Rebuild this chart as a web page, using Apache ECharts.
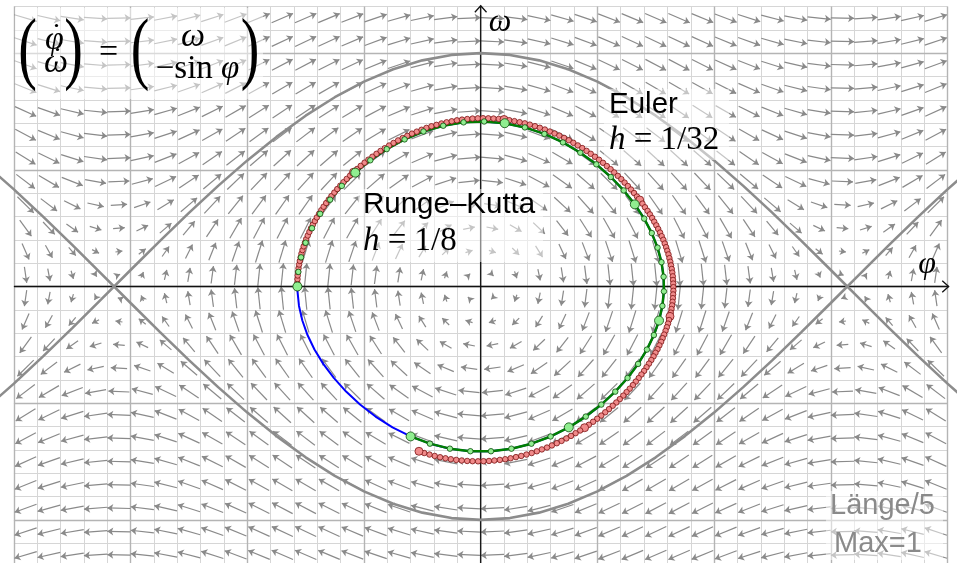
<!DOCTYPE html>
<html lang="de">
<head>
<meta charset="utf-8">
<title>Pendel: Euler und Runge-Kutta</title>
<script src="https://cdn.jsdelivr.net/npm/echarts@6/dist/echarts.min.js"></script>
<style>
  html, body { margin: 0; padding: 0; background: #fff; }
  #main { width: 957px; height: 563px; }
</style>
</head>
<body>
<div id="main"></div>
<script>
// Runge-Kutta, h = 1/8 (t = 0 .. 6)
var rkPhi = [-1.5708, -1.5630, -1.5395, -1.5005, -1.4458, -1.3757, -1.2903, -1.1899, -1.0750,
  -0.9463, -0.8050, -0.6524, -0.4904, -0.3211, -0.1469, 0.0296, 0.2056, 0.3785, 0.5456, 0.7047,
  0.8536, 0.9909, 1.1150, 1.2252, 1.3206, 1.4009, 1.4659, 1.5153, 1.5491, 1.5673, 1.5699, 1.5569,
  1.5282, 1.4839, 1.4241, 1.3488, 1.2583, 1.1530, 1.0334, 0.9003, 0.7550, 0.5991, 0.4344, 0.2632,
  0.0879, -0.0887, -0.2640, -0.4352, -0.6005];
var rkOmega = [0, 0.1251, 0.2500, 0.3749, 0.4993, 0.6226, 0.7441, 0.8623, 0.9755,
  1.0814, 1.1774, 1.2607, 1.3283, 1.3776, 1.4066, 1.4139, 1.3992, 1.3633, 1.3075, 1.2344,
  1.1465, 1.0469, 0.9383, 0.8232, 0.7037, 0.5815, 0.4577, 0.3331, 0.2082, 0.0832, -0.0419, -0.1669,
  -0.2919, -0.4166, -0.5407, -0.6636, -0.7841, -0.9009, -1.0119, -1.1148, -1.2069, -1.2852, -1.3469, -1.3897,
  -1.4115, -1.4114, -1.3895, -1.3467, -1.2846];

// rest of the exact orbit (t = 6.125 .. 7.375, back to the start)
var tailPhi = [-0.7558, -0.9010, -1.0340, -1.1535, -1.2588, -1.3492, -1.4244, -1.4842, -1.5284, -1.5570, -1.5699, -1.5708];
var tailOmega = [-1.2065, -1.1143, -1.0114, -0.9003, -0.7835, -0.6630, -0.5401, -0.4160, -0.2913, -0.1663, -0.0413, 0];

// Euler, h = 1/32 (t = 0 .. 6)
var eulerPhi = [-1.571, -1.571, -1.570, -1.568, -1.565, -1.561, -1.556, -1.550, -1.543, -1.536,
  -1.527, -1.517, -1.506, -1.495, -1.482, -1.468, -1.454, -1.438, -1.421, -1.404,
  -1.385, -1.366, -1.346, -1.324, -1.302, -1.279, -1.254, -1.229, -1.203, -1.176,
  -1.148, -1.119, -1.090, -1.059, -1.028, -0.995, -0.962, -0.928, -0.893, -0.858,
  -0.822, -0.785, -0.747, -0.708, -0.669, -0.629, -0.589, -0.548, -0.507, -0.465,
  -0.422, -0.379, -0.336, -0.292, -0.248, -0.204, -0.160, -0.115, -0.070, -0.025,
  0.020, 0.065, 0.110, 0.155, 0.200, 0.245, 0.289, 0.334, 0.378, 0.421,
  0.465, 0.507, 0.550, 0.592, 0.633, 0.674, 0.715, 0.755, 0.794, 0.832,
  0.870, 0.907, 0.943, 0.979, 1.014, 1.048, 1.081, 1.113, 1.144, 1.175,
  1.205, 1.233, 1.261, 1.288, 1.314, 1.339, 1.363, 1.386, 1.408, 1.430,
  1.450, 1.469, 1.487, 1.505, 1.521, 1.537, 1.551, 1.565, 1.577, 1.589,
  1.599, 1.609, 1.617, 1.625, 1.631, 1.637, 1.642, 1.646, 1.648, 1.650,
  1.651, 1.651, 1.649, 1.647, 1.644, 1.640, 1.635, 1.629, 1.622, 1.614,
  1.605, 1.595, 1.584, 1.572, 1.559, 1.546, 1.531, 1.515, 1.498, 1.481,
  1.462, 1.442, 1.421, 1.400, 1.377, 1.354, 1.329, 1.304, 1.277, 1.250,
  1.222, 1.192, 1.162, 1.131, 1.099, 1.067, 1.033, 0.998, 0.963, 0.927,
  0.890, 0.852, 0.813, 0.774, 0.734, 0.693, 0.652, 0.610, 0.568, 0.524,
  0.481, 0.437, 0.392, 0.347, 0.302, 0.256, 0.210, 0.164, 0.117, 0.071,
  0.024, -0.023, -0.070, -0.116, -0.163, -0.210, -0.256, -0.302, -0.348, -0.394,
  -0.439, -0.484, -0.529];
var eulerOmega = [0, 0.031, 0.063, 0.094, 0.125, 0.156, 0.188, 0.219, 0.250, 0.281,
  0.312, 0.344, 0.375, 0.406, 0.437, 0.468, 0.499, 0.530, 0.561, 0.592,
  0.623, 0.654, 0.684, 0.715, 0.745, 0.775, 0.805, 0.835, 0.864, 0.894,
  0.922, 0.951, 0.979, 1.007, 1.034, 1.061, 1.087, 1.112, 1.137, 1.162,
  1.185, 1.208, 1.230, 1.252, 1.272, 1.291, 1.310, 1.327, 1.343, 1.359,
  1.373, 1.385, 1.397, 1.407, 1.416, 1.424, 1.430, 1.435, 1.439, 1.441,
  1.442, 1.441, 1.439, 1.436, 1.431, 1.425, 1.417, 1.408, 1.398, 1.387,
  1.374, 1.360, 1.345, 1.328, 1.311, 1.293, 1.273, 1.253, 1.231, 1.209,
  1.186, 1.162, 1.137, 1.112, 1.086, 1.060, 1.032, 1.005, 0.977, 0.948,
  0.920, 0.890, 0.861, 0.831, 0.801, 0.771, 0.741, 0.710, 0.679, 0.648,
  0.618, 0.587, 0.555, 0.524, 0.493, 0.462, 0.431, 0.400, 0.368, 0.337,
  0.306, 0.275, 0.243, 0.212, 0.181, 0.150, 0.119, 0.087, 0.056, 0.025,
  -0.006, -0.037, -0.068, -0.100, -0.131, -0.162, -0.193, -0.224, -0.256, -0.287,
  -0.318, -0.349, -0.380, -0.412, -0.443, -0.474, -0.505, -0.537, -0.568, -0.599,
  -0.630, -0.661, -0.692, -0.723, -0.754, -0.785, -0.815, -0.845, -0.876, -0.905,
  -0.935, -0.965, -0.994, -1.022, -1.051, -1.078, -1.106, -1.133, -1.159, -1.185,
  -1.210, -1.234, -1.257, -1.280, -1.302, -1.323, -1.343, -1.362, -1.380, -1.396,
  -1.412, -1.427, -1.440, -1.452, -1.462, -1.472, -1.480, -1.486, -1.491, -1.495,
  -1.497, -1.498, -1.497, -1.495, -1.491, -1.486, -1.480, -1.472, -1.463, -1.452,
  -1.440, -1.427, -1.412];

// separatrix (upper branch, the lower one is its mirror)
var sepPhi = [-4.25, -4, -3.75, -3.5, -3.25, -3, -2.75, -2.5, -2.25, -2, -1.75, -1.5, -1.25, -1, -0.75, -0.5, -0.25,
  0, 0.25, 0.5, 0.75, 1, 1.25, 1.5, 1.75, 2, 2.25, 2.5, 2.75, 3, 3.25, 3.5, 3.75, 4, 4.25];
var sepOmega = [-1.0525, -0.8323, -0.5991, -0.3565, -0.1084, 0.1415, 0.3891, 0.6306, 0.8624, 1.0806, 1.2820,
  1.4634, 1.6219, 1.7552, 1.8610, 1.9378, 1.9844, 2.0, 1.9844, 1.9378, 1.8610, 1.7552, 1.6219, 1.4634,
  1.2820, 1.0806, 0.8624, 0.6306, 0.3891, 0.1415, -0.1084, -0.3565, -0.5991, -0.8323, -1.0525];

// direction field: cell centres and omega' = -sin(phi) per column
var fieldPhi = [-3.9, -3.7, -3.5, -3.3, -3.1, -2.9, -2.7, -2.5, -2.3, -2.1, -1.9, -1.7, -1.5, -1.3, -1.1,
  -0.9, -0.7, -0.5, -0.3, -0.1, 0.1, 0.3, 0.5, 0.7, 0.9, 1.1, 1.3, 1.5, 1.7, 1.9, 2.1, 2.3, 2.5, 2.7,
  2.9, 3.1, 3.3, 3.5, 3.7, 3.9];
var fieldOmega = [-2.3, -2.1, -1.9, -1.7, -1.5, -1.3, -1.1, -0.9, -0.7, -0.5, -0.3, -0.1,
  0.1, 0.3, 0.5, 0.7, 0.9, 1.1, 1.3, 1.5, 1.7, 1.9, 2.1, 2.3];
var fieldDOmega = [-0.688, -0.530, -0.351, -0.158, 0.042, 0.239, 0.427, 0.598, 0.746, 0.863,
  0.946, 0.992, 0.997, 0.964, 0.891, 0.783, 0.644, 0.479, 0.296, 0.100,
  -0.100, -0.296, -0.479, -0.644, -0.783, -0.891, -0.964, -0.997, -0.992, -0.946,
  -0.863, -0.746, -0.598, -0.427, -0.239, -0.042, 0.158, 0.351, 0.530, 0.688];

function pairs(xs, ys) {
  return xs.map(function (x, i) { return [x, ys[i]]; });
}

// arrows: Länge/5, Max=1, centred in the cell
var arrows = [];
fieldOmega.forEach(function (w) {
  fieldPhi.forEach(function (p, i) {
    var vx = w, vy = fieldDOmega[i];
    var len = Math.sqrt(vx * vx + vy * vy);
    var L = Math.min(len, 1) / 5;
    var dx = vx / len * L / 2, dy = vy / len * L / 2;
    arrows.push({ coords: [[p - dx, w - dy], [p + dx, w + dy]] });
  });
});

// grid 0.2, darker every 1
var minorLines = [], majorLines = [];
for (var i = -20; i <= 20; i++) {
  (i % 5 === 0 ? majorLines : minorLines).push({ coords: [[i / 5, -2.4], [i / 5, 2.4]] });
}
for (var j = -12; j <= 12; j++) {
  (j % 5 === 0 ? majorLines : minorLines).push({ coords: [[-4, j / 5], [4, j / 5]] });
}

var serif = '"Liberation Serif", "DejaVu Serif", serif';
var sans = '"Liberation Sans", Arial, sans-serif';

function t(x, y, text, size, extra) {
  var style = { text: text, fontSize: size, fontFamily: serif, fill: '#000',
    textAlign: 'center', textVerticalAlign: 'middle' };
  for (var k in (extra || {})) style[k] = extra[k];
  return { type: 'text', x: x, y: y, z: 20, style: style };
}
function paren(x, y, ch) {
  return { type: 'text', x: x, y: y, scaleY: 2.0, scaleX: 1.4, z: 20,
    style: { text: ch, fontSize: 40, fontFamily: serif, fill: '#000',
      textAlign: 'center', textVerticalAlign: 'middle' } };
}
function box(x, y, w, h) {
  return { type: 'rect', z: 4, shape: { x: x, y: y, width: w, height: h }, style: { fill: 'rgba(255,255,255,0.5)' } };
}
function dot(x, y) {
  return { type: 'circle', z: 20, shape: { cx: x, cy: y, r: 1.6 }, style: { fill: '#000' } };
}
var mathRich = { i: { fontStyle: 'italic', fontFamily: serif, fontSize: 33 } };

var chart = echarts.init(document.getElementById('main'));
chart.setOption({
  animation: false,
  grid: { left: 0, right: 0, top: 0, bottom: 0 },
  xAxis: { type: 'value', min: -4.1191, max: 4.0814, show: false },
  yAxis: { type: 'value', min: -2.3693, max: 2.4550, show: false },
  series: [
    { type: 'lines', coordinateSystem: 'cartesian2d', silent: true, z: 1, symbol: 'none',
      lineStyle: { color: '#d6d6d6', width: 1, opacity: 1 }, data: minorLines },
    { type: 'lines', coordinateSystem: 'cartesian2d', silent: true, z: 1, symbol: 'none',
      lineStyle: { color: '#b4b4b4', width: 1.4, opacity: 1 }, data: majorLines },
    { type: 'lines', coordinateSystem: 'cartesian2d', silent: true, z: 2,
      symbol: ['none', 'arrow'], symbolSize: 6,
      lineStyle: { color: '#8a8a8a', width: 1.2, opacity: 1 }, data: arrows },
    // axes
    { type: 'lines', coordinateSystem: 'cartesian2d', silent: true, z: 3, symbol: 'none', polyline: true,
      lineStyle: { color: '#111', width: 1.3, opacity: 1 },
      data: [
        { coords: [[-4, 0], [4.01, 0]] },
        { coords: [[3.955, 0.05], [4.01, 0], [3.955, -0.05]] },
        { coords: [[0, -2.4], [0, 2.405]] },
        { coords: [[-0.05, 2.35], [0, 2.405], [0.05, 2.35]] }
      ] },
    { type: 'line', z: 3, silent: true, showSymbol: false, symbol: 'none',
      lineStyle: { color: '#8c8c8c', width: 2.6 }, data: pairs(sepPhi, sepOmega) },
    { type: 'line', z: 3, silent: true, showSymbol: false, symbol: 'none',
      lineStyle: { color: '#8c8c8c', width: 2.6 }, data: pairs(sepPhi, sepOmega.map(function (v) { return -v; })) },
    // exact solution
    { type: 'line', z: 5, silent: true, showSymbol: false, symbol: 'none',
      lineStyle: { color: '#0000ff', width: 2 }, data: pairs(rkPhi, rkOmega).concat(pairs(tailPhi, tailOmega)) },
    // Runge-Kutta line
    { type: 'line', z: 6, silent: true, showSymbol: false, symbol: 'none',
      lineStyle: { color: '#008000', width: 2.5 }, data: pairs(rkPhi, rkOmega) },
    // Euler points
    { type: 'scatter', z: 7, silent: true,
      symbolSize: function (v, p) { return p.dataIndex % 32 === 0 ? 8 : 5.5; },
      itemStyle: { color: '#f08a8a', borderColor: '#7a1010', borderWidth: 0.8, opacity: 1 },
      data: pairs(eulerPhi, eulerOmega) },
    // Runge-Kutta points
    { type: 'scatter', z: 8, silent: true,
      symbolSize: function (v, p) { return p.dataIndex % 8 === 0 ? 9 : 5.5; },
      itemStyle: { color: '#90ee90', borderColor: '#0a4a0a', borderWidth: 0.8, opacity: 1 },
      data: pairs(rkPhi, rkOmega) }
  ],
  graphic: [
    box(15, 8, 248, 91),
    box(604, 89, 125, 71),
    box(358, 189, 185, 73),
    box(826, 491, 117, 69),
    // formula
    paren(27.5, 52.5, '('),
    t(54.5, 40, 'φ', 34, { fontStyle: 'italic' }), dot(56.5, 25.5),
    t(56, 63, 'ω', 34, { fontStyle: 'italic' }), dot(57.5, 49.5),
    paren(73.5, 52.5, ')'),
    t(108.5, 53, '=', 34),
    paren(140, 52.5, '('),
    t(193, 37, 'ω', 34, { fontStyle: 'italic' }),
    t(197.5, 69, '−sin {i|φ}', 33, { rich: { i: { fontStyle: 'italic', fontFamily: serif, fontSize: 33 } } }),
    paren(250, 52.5, ')'),
    // axis labels
    t(500, 23, 'ω', 32, { fontStyle: 'italic' }),
    t(927, 265, 'φ', 32, { fontStyle: 'italic' }),
    // method labels
    t(609, 104.5, 'Euler', 29.5, { fontFamily: sans, textAlign: 'left' }),
    t(609, 140.5, '{i|h} = 1/32', 33, { textAlign: 'left', rich: mathRich }),
    t(363, 205, 'Runge–Kutta', 29.5, { fontFamily: sans, textAlign: 'left' }),
    t(363, 241, '{i|h} = 1/8', 33, { textAlign: 'left', rich: mathRich }),
    t(882.5, 506, 'Länge/5', 29, { fontFamily: sans, fill: '#8a8a8a' }),
    t(878, 543.5, 'Max=1', 29, { fontFamily: sans, fill: '#8a8a8a' })
  ]
});
</script>
</body>
</html>
